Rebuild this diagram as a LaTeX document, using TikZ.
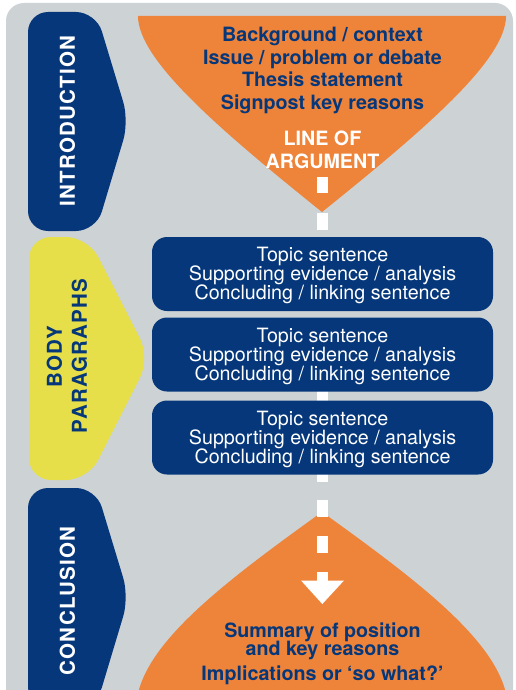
\documentclass[tikz,border=0pt]{standalone}
\usepackage{fontspec}
\setmainfont{TeX Gyre Heros}
\definecolor{graybg}{HTML}{CDD2D5}
\definecolor{navy}{HTML}{05377A}
\definecolor{orng}{HTML}{EE833A}
\definecolor{yell}{HTML}{E6DF49}
\begin{document}
\begin{tikzpicture}[x=1pt,y=-1pt,
  bodybox/.style={fill=navy, rounded corners=15pt, minimum width=341pt, minimum height=74pt, inner sep=0pt},
  bodyline/.style={anchor=base, text=white, inner sep=0pt, font=\fontsize{19.7}{19}\selectfont},
  topline/.style={anchor=base, text=navy, inner sep=0pt, font=\bfseries\fontsize{19.7}{22}\selectfont},
  argline/.style={topline, text=white},
  tablabel/.style={rotate=90, anchor=center, inner sep=0pt, text=white, font=\bfseries\fontsize{20.5}{20}\selectfont\addfontfeatures{LetterSpace=6}},
  bodylabel/.style={tablabel, text=navy},
  dashbar/.style={fill=white}
]
\useasboundingbox (0,0) rectangle (516,690);
\clip (0,0) rectangle (516,690);
\fill[white] (0,0) rectangle (516,690);
% background panel
\fill[graybg, rounded corners=18pt] (6,3) rectangle (513,730);
% orange funnel (introduction)
\fill[orng] (138,16) -- (506,16)
  .. controls (506,60) and (424,130) .. (322,212)
  .. controls (220,130) and (138,60) .. (138,16) -- cycle;
% orange drop (conclusion)
\fill[orng] (322,512) .. controls (428,588) and (508,650) .. (508,710)
  -- (136,710) .. controls (136,650) and (216,588) .. (322,512) -- cycle;
% side tabs
\fill[navy, rounded corners=20pt] (28,12) -- (96,12) -- (129,121) -- (96,231) -- (28,231) -- cycle;
\fill[yell, rounded corners=22pt] (29,237) -- (88,237) -- (150,358) -- (88,480) -- (29,480) -- cycle;
\fill[navy, rounded corners=20pt] (28,488) -- (96,488) -- (129,597) -- (96,707) -- (28,707) -- cycle;
% line of argument (dashes)
\fill[dashbar] (317,177) rectangle (327.5,193);
\fill[dashbar] (317,213) rectangle (327.5,230);
\fill[dashbar] (317,387) rectangle (327.5,405);
\fill[dashbar] (317,465) rectangle (327.5,482);
\fill[dashbar] (317,500) rectangle (327.5,517);
\fill[dashbar] (317,535.5) rectangle (327.5,553);
\fill[dashbar] (317,572) rectangle (327.5,581);
\coordinate (ahl) at (301,580.5);
\coordinate (ahr) at (344,580.5);
\coordinate (aht) at (322.3,604);
\fill[dashbar] (ahl) -- (ahr) -- (aht) -- cycle;
% body boxes
\node[bodybox] (box1) at (322.5,274) {};
\node[bodybox] (box2) at (322.5,354.5) {};
\node[bodybox] (box3) at (322.5,437.5) {};
\foreach \i/\y in {1/261, 2/342, 3/425}{
  \node[bodyline] (box\i a) at (322.5,\y) {Topic sentence};
  \node[bodyline] (box\i b) at (322.5,{\y+19}) {Supporting evidence / analysis};
  \node[bodyline] (box\i c) at (322.5,{\y+38}) {Concluding / linking sentence};
}
% introduction text
\node[topline] (intro1) at (322.5,42) {Background / context};
\node[topline] (intro2) at (322.5,64.5) {Issue / problem or debate};
\node[topline] (intro3) at (322.5,87) {Thesis statement};
\node[topline] (intro4) at (322.5,109.5) {Signpost key reasons};
\node[argline] (arg1) at (322.5,145) {LINE OF};
\node[argline] (arg2) at (322.5,168) {ARGUMENT};
% conclusion text
\node[topline] (conc1) at (322.5,637) {Summary of position};
\node[topline] (conc2) at (322.5,655.5) {and key reasons};
\node[topline] (conc3) at (322.5,680) {Implications or ‘so what?’};
% tab labels
\node[tablabel] (labintro) at (67.5,121) {INTRODUCTION};
\node[bodylabel] (labbody1) at (54.5,357) {BODY};
\node[bodylabel] (labbody2) at (79.5,356) {PARAGRAPHS};
\node[tablabel] (labconc) at (67.5,601) {CONCLUSION};
\end{tikzpicture}
\end{document}
